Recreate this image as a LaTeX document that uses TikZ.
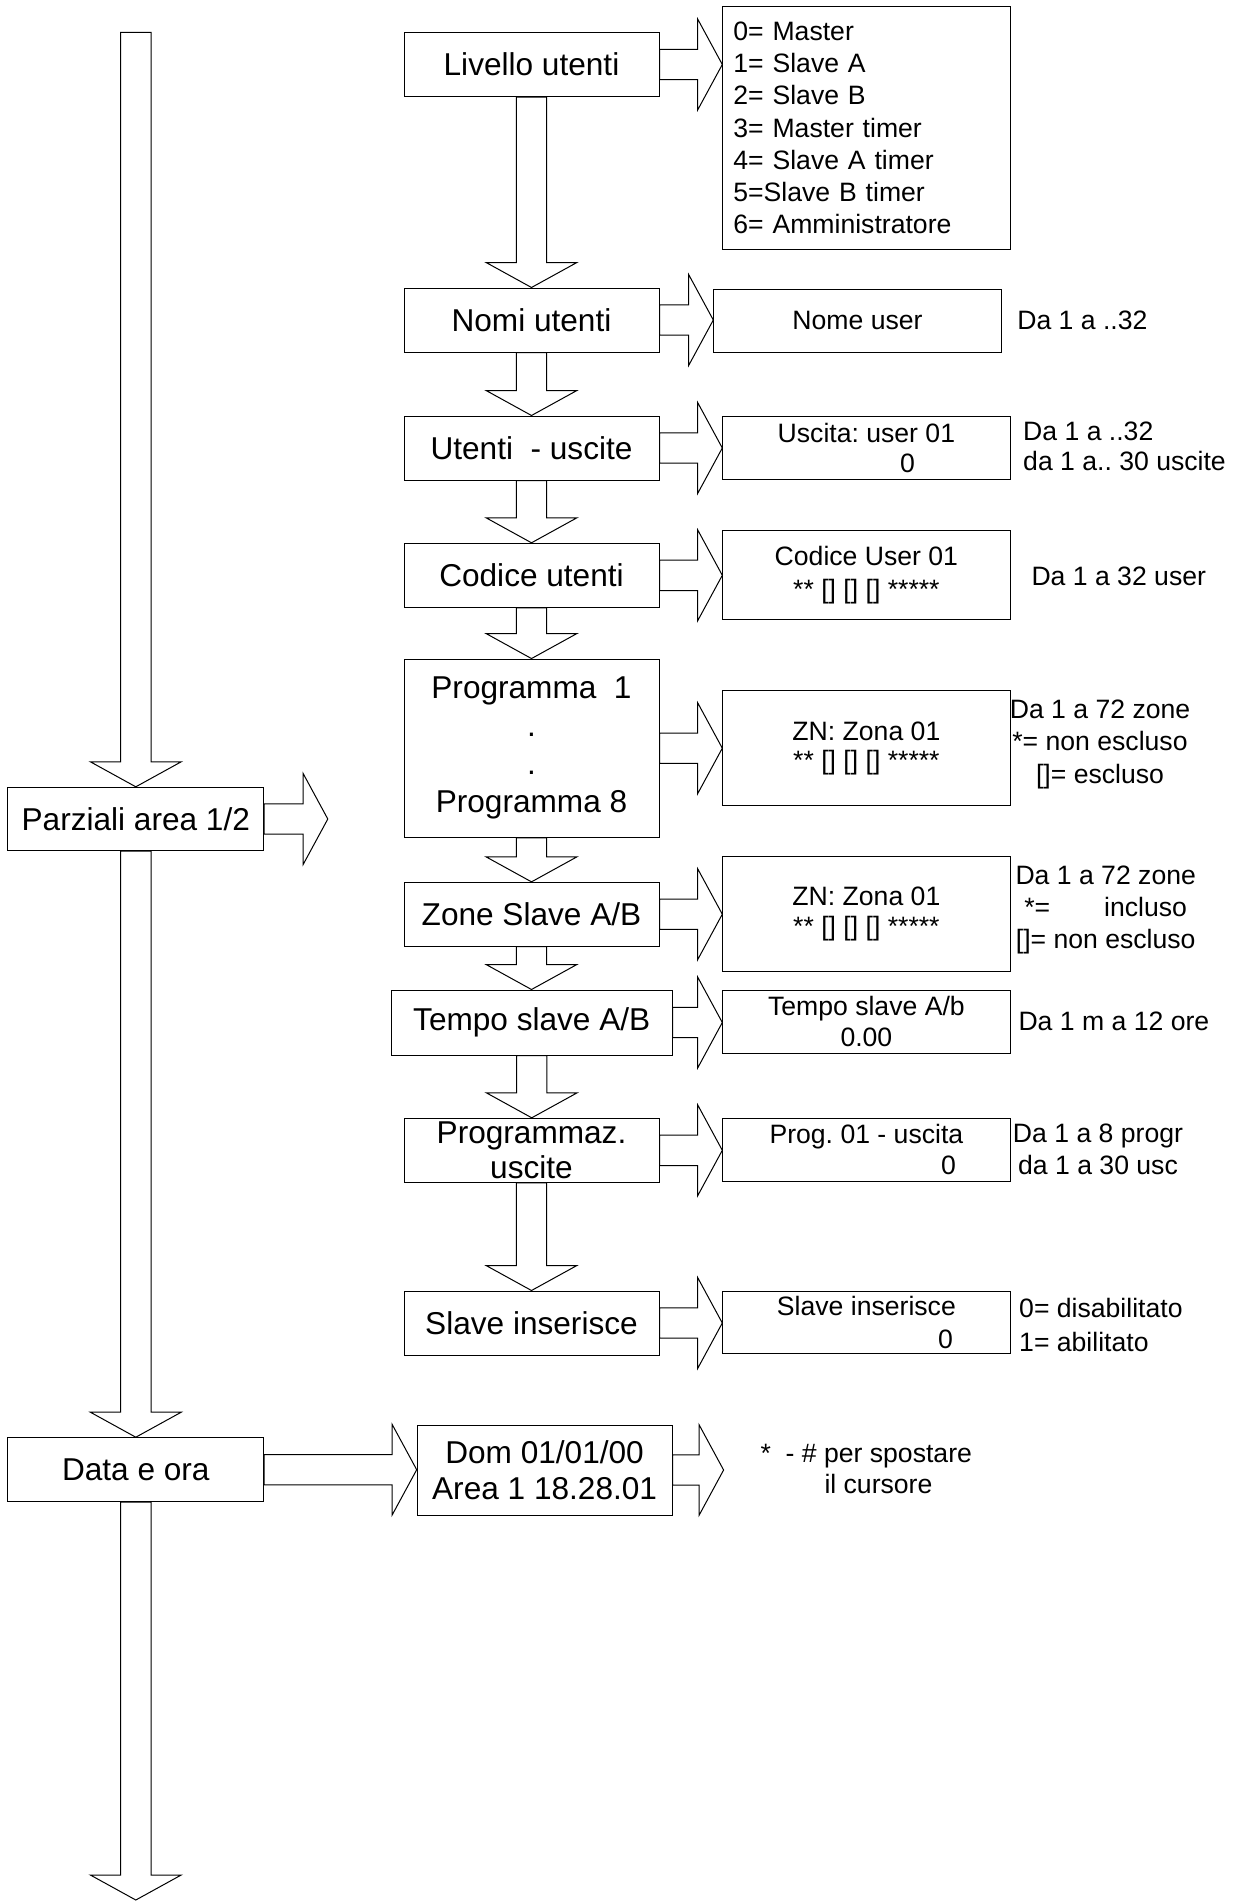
\documentclass[tikz,border=0pt]{standalone}
\usepackage{fontspec}
\setmainfont{Liberation Sans}
\usepackage{tikz}
\usetikzlibrary{calc}
\frenchspacing

\begin{document}
\begin{tikzpicture}[x=0.5pt,y=-0.5pt,line width=0.5pt,
    box/.style={draw,inner sep=0pt,align=center,font=\fontsize{15.8pt}{19pt}\selectfont},
    lcd/.style={draw,inner sep=0pt,align=center,minimum width=143.6pt,
                font=\fontsize{13.3pt}{15.5pt}\selectfont},
    note/.style={inner sep=0pt,font=\fontsize{13.3pt}{16pt}\selectfont},
    dblk/.style={to path={let \p1=(\tikztostart),\p2=(\tikztotarget) in
      ({\x1-7.6pt},\y1) -- ({\x1-7.6pt},{\y2+12.5pt}) -- ({\x1-22.7pt},{\y2+12.5pt}) -- (\x1,\y2)
      -- ({\x1+22.7pt},{\y2+12.5pt}) -- ({\x1+7.6pt},{\y2+12.5pt}) -- ({\x1+7.6pt},\y1) -- cycle}},
    rblk/.style={to path={let \p1=(\tikztostart),\p2=(\tikztotarget) in
      (\x1,{\y1+7.6pt}) -- ({\x2-12.3pt},{\y1+7.6pt}) -- ({\x2-12.3pt},{\y1+22.7pt}) -- (\x2,\y1)
      -- ({\x2-12.3pt},{\y1-22.7pt}) -- ({\x2-12.3pt},{\y1-7.6pt}) -- (\x1,{\y1-7.6pt}) -- cycle}}]
  \useasboundingbox (0,0) rectangle (1233,1901);

  \node[box,minimum width=127.9pt,minimum height=31.7pt] (parz) at (135.8,819) {Parziali area 1/2};
  \node[box,minimum width=127.9pt,minimum height=32pt] (data) at (135.8,1469.7) {Data e ora};
  \coordinate (ltop) at (135.8,32.3);
  \coordinate (lbot) at (135.8,1900);
  \coordinate (pzend) at (327.8,819);

  \node[box,minimum width=127.5pt,minimum height=32.2pt] (liv) at (531.5,64.5) {Livello utenti};
  \node[box,minimum width=127.5pt,minimum height=32pt] (nomi) at (531.5,320) {Nomi utenti};
  \node[box,minimum width=127.5pt,minimum height=32pt] (uten) at (531.5,448) {Utenti\ \ - uscite};
  \node[box,minimum width=127.5pt,minimum height=32pt] (cod) at (531.5,575.3) {Codice utenti};
  \node[box,minimum width=127.5pt,minimum height=89.15pt] (prog) at (531.5,748.2)
    {Programma\ \ 1\\.\\.\\Programma 8};
  \node[box,minimum width=127.5pt,minimum height=31.85pt] (zone) at (531.5,914.2) {Zone Slave A/B};
  \node[box,minimum width=140.25pt,minimum height=32.5pt] (tempo) at (531.75,1022.5) {Tempo slave A/B};
  \node[box,minimum width=127.5pt,minimum height=32pt,font=\fontsize{15.8pt}{17.5pt}\selectfont]
    (pgmz) at (531.5,1150.3) {Programmaz.\\uscite};
  \node[box,minimum width=127.5pt,minimum height=32pt] (slins) at (531.5,1323) {Slave inserisce};
  \node[box,minimum width=127.4pt,minimum height=45pt,font=\fontsize{15.8pt}{18.3pt}\selectfont]
    (dom) at (544.6,1470) {Dom 01/01/00\\Area 1 18.28.01};
  \coordinate (domend) at (723.6,1470);

  \node[lcd,align=left,minimum width=0pt,inner xsep=5.3pt,text width=133pt,minimum height=121.3pt,
    font=\fontsize{13.3pt}{16.1pt}\selectfont] (opts) at (866.4,128)
    {0= Master\\1= Slave A\\2= Slave B\\3= Master timer\\4= Slave A timer\\5=Slave B timer\\6= Amministratore};
  \node[lcd,minimum width=143.7pt,minimum height=31.35pt] (nomeu) at (857.5,320.7) {Nome user};
  \node[lcd,minimum height=31.65pt,font=\fontsize{13.3pt}{15pt}\selectfont] (usc) at (866.4,448.3)
    {Uscita: user 01\\\hspace*{41pt}0};
  \node[lcd,minimum height=44.65pt,font=\fontsize{13.3pt}{16.3pt}\selectfont] (codu) at (866.4,575.3)
    {Codice User 01\\{**} [] [] [] *****};
  \node[lcd,minimum height=57.65pt,font=\fontsize{13.3pt}{14.8pt}\selectfont] (zn1) at (866.4,748.3)
    {ZN: Zona 01\\{**} [] [] [] *****};
  \node[lcd,minimum height=57.5pt,font=\fontsize{13.3pt}{14.8pt}\selectfont] (zn2) at (866.4,914.2)
    {ZN: Zona 01\\{**} [] [] [] *****};
  \node[lcd,minimum height=31.65pt] (tsl) at (866.4,1021.7) {Tempo slave A/b\\0.00};
  \node[lcd,minimum height=31.35pt] (prg) at (866.4,1149.7) {Prog. 01 - uscita\\\hspace*{82pt}0};
  \node[lcd,minimum height=31.15pt,font=\fontsize{13.3pt}{16.5pt}\selectfont] (sli) at (866.4,1322.8)
    {Slave inserisce\\\hspace*{79pt}0};

  \node[note,anchor=west] (n1) at (1016.8,320) {Da 1 a ..32};
  \node[note,anchor=west,align=left,font=\fontsize{13.3pt}{15pt}\selectfont] (n2) at (1022.7,446.7)
    {Da 1 a ..32\\da 1 a.. 30 uscite};
  \node[note,anchor=west] (n3) at (1031,576) {Da 1 a 32 user};
  \node[note,align=center,font=\fontsize{13.3pt}{16.25pt}\selectfont] (n4) at (1100,744.2)
    {Da 1 a 72 zone\\{*}= non escluso\\{[]}= escluso};
  \node[note,align=center,font=\fontsize{13.3pt}{15.85pt}\selectfont] (n5) at (1105.7,910)
    {Da 1 a 72 zone\\{*}=\hspace{27pt}incluso\\{[]}= non escluso};
  \node[note,anchor=west] (n6) at (1018,1021.7) {Da 1 m a 12 ore};
  \node[note,align=center,font=\fontsize{13.3pt}{15.85pt}\selectfont] (n7) at (1098,1149.2)
    {Da 1 a 8 progr\\da 1 a 30 usc};
  \node[note,anchor=west,align=left,font=\fontsize{13.3pt}{16.7pt}\selectfont] (n8) at (1018.7,1325)
    {0= disabilitato\\1= abilitato};
  \node[note,anchor=west,align=left,font=\fontsize{13.3pt}{15.85pt}\selectfont] (n9) at (760,1469)
    {*\ \ - \# per spostare\\\hspace*{32pt}il cursore};

  \draw[dblk] (ltop) to (parz.north); \draw[dblk] (parz.south) to (data.north);
  \draw[dblk] (data.south) to (lbot);
  \draw[rblk] (parz.east) to (pzend); \draw[rblk] (data.east) to (dom.west);
  \draw[rblk] (dom.east) to (domend);

  \draw[dblk] (liv.south) to (nomi.north); \draw[dblk] (nomi.south) to (uten.north);
  \draw[dblk] (uten.south) to (cod.north); \draw[dblk] (cod.south) to (prog.north);
  \draw[dblk] (prog.south) to (zone.north); \draw[dblk] (zone.south) to (tempo.north);
  \draw[dblk] (tempo.south) to (pgmz.north); \draw[dblk] (pgmz.south) to (slins.north);

  \draw[rblk] (liv.east) to (opts.west); \draw[rblk] (nomi.east) to (nomeu.west);
  \draw[rblk] (uten.east) to (usc.west); \draw[rblk] (cod.east) to (codu.west);
  \draw[rblk] (prog.east) to (zn1.west); \draw[rblk] (zone.east) to (zn2.west);
  \draw[rblk] (tempo.east) to (tsl.west); \draw[rblk] (pgmz.east) to (prg.west);
  \draw[rblk] (slins.east) to (sli.west);
\end{tikzpicture}
\end{document}
